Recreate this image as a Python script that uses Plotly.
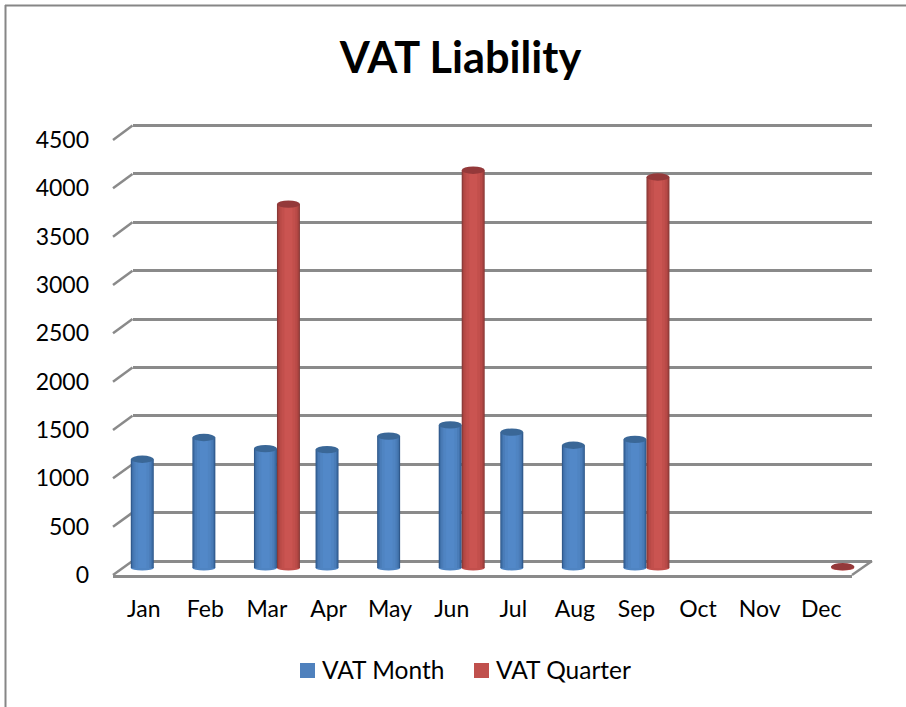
import plotly.graph_objects as go

months = ["Jan", "Feb", "Mar", "Apr", "May", "Jun", "Jul", "Aug", "Sep", "Oct", "Nov", "Dec"]
vat_month = [1125, 1350, 1235, 1225, 1365, 1480, 1405, 1270, 1330, None, None, None]
vat_quarter = [None, None, 3765, None, None, 4115, None, None, 4045, None, None, 15]
y_ticks = [0, 500, 1000, 1500, 2000, 2500, 3000, 3500, 4000, 4500]
series_names = ["VAT Month", "VAT Quarter"]

W, H = 906, 707
FONT = "Lato, Carlito, Calibri, sans-serif"
GRID = "#8a8a8a"
Y_MAX = 4500


def px(x):
    return x / W


def py(y):
    return 1 - y / H


front_x, front_y = (113, 852), (575, 140)
back_x, back_y = (132.5, 872), (561, 125.5)
bar_y = (568, 133)
BAR_W = 23 / 61.6
ELL_H = 76
BASE_H = 50

# small margins so the topmost gridline and the rounded bar ends are not clipped
back_pad = Y_MAX * 2 / (back_y[0] - back_y[1])
bar_pad_low = Y_MAX * 10 / (bar_y[0] - bar_y[1])
cat_px = (front_x[1] - front_x[0]) / len(months)
bar_pad_x = 10 / cat_px

blue_ramp = ["#30598c", "#3f70a9", "#4a7cb8", "#4f84c2", "#5288c8"]
red_ramp = ["#8a3937", "#a94441", "#b94a47", "#c24f4c", "#ca5451"]
ramp_w = [1.0, 0.9, 0.78, 0.6, 0.35]

fig = go.Figure()

# Empty carriers so the wall and the front axes are drawn
fig.add_trace(go.Scatter(x=[0.5], y=[0], xaxis="x", yaxis="y", mode="lines",
                         showlegend=False, hoverinfo="skip"))
fig.add_trace(go.Scatter(x=months, y=[0] * len(months), xaxis="x2", yaxis="y2", mode="lines",
                         line=dict(width=0, color="rgba(0,0,0,0)"), showlegend=False, hoverinfo="skip"))

for vals, ramp, center in [
    (vat_month, blue_ramp, 0.0),
    (vat_quarter, red_ramp, BAR_W),
]:
    for col, frac in zip(ramp, ramp_w):
        w = BAR_W * frac
        fig.add_trace(go.Bar(
            x=months, y=vals, xaxis="x3", yaxis="y3", width=w,
            offset=center - w / 2, marker=dict(color=col, line=dict(width=0)),
            showlegend=False, hoverinfo="skip",
        ))

shapes = []
for vals, base_col, top_col, center in [
    (vat_month, "#4f84c2", "#3a6797", 0.0),
    (vat_quarter, "#c24f4c", "#94393a", BAR_W),
]:
    for i, v in enumerate(vals):
        if v is None:
            continue
        x0, x1 = i + center - BAR_W / 2, i + center + BAR_W / 2
        shapes.append(dict(type="circle", xref="x3", yref="y3", layer="below",
                           x0=x0, x1=x1, y0=-BASE_H / 2, y1=BASE_H / 2,
                           fillcolor=base_col, line=dict(width=0)))
        shapes.append(dict(type="circle", xref="x3", yref="y3", layer="above",
                           x0=x0, x1=x1, y0=v - ELL_H / 2, y1=v + ELL_H / 2,
                           fillcolor=top_col, line=dict(width=0)))

for t in y_ticks:
    fy = front_y[0] + (front_y[1] - front_y[0]) * t / Y_MAX
    by = back_y[0] + (back_y[1] - back_y[0]) * t / Y_MAX
    shapes.append(dict(type="line", xref="paper", yref="paper", layer="below",
                       x0=px(front_x[0]), y0=py(fy), x1=px(back_x[0]), y1=py(by),
                       line=dict(color=GRID, width=2.5)))
shapes.append(dict(type="line", xref="paper", yref="paper", layer="below",
                   x0=px(front_x[1]), y0=py(front_y[0]), x1=px(back_x[1]), y1=py(back_y[0]),
                   line=dict(color=GRID, width=2.5)))
# chart frame
shapes.append(dict(type="line", xref="paper", yref="paper", x0=px(5), x1=1, y0=py(5.5), y1=py(5.5),
                   line=dict(color="#868686", width=2)))
shapes.append(dict(type="line", xref="paper", yref="paper", x0=px(5.5), x1=px(5.5), y0=py(5), y1=0,
                   line=dict(color="#868686", width=2)))

# legend, placed by hand to match the reference's tight key-to-text spacing
annotations = []
for name, col, key_x in [(series_names[0], "#4f81bd", 300), (series_names[1], "#c0504d", 474)]:
    shapes.append(dict(type="rect", xref="paper", yref="paper",
                       x0=px(key_x), x1=px(key_x + 15), y0=py(678), y1=py(663),
                       fillcolor=col, line=dict(width=0)))
    annotations.append(dict(text=name, xref="paper", yref="paper", x=px(key_x + 20), y=py(669.5),
                            xanchor="left", yanchor="middle", showarrow=False,
                            font=dict(family=FONT, size=24.5, color="black")))

fig.update_layout(
    width=W, height=H, margin=dict(l=0, r=0, t=0, b=0, pad=0, autoexpand=False),
    paper_bgcolor="white", plot_bgcolor="rgba(0,0,0,0)", showlegend=False,
    barmode="overlay", font=dict(family=FONT, color="black", size=23),
    title=dict(text="<b>VAT Liability</b>", font=dict(family=FONT, size=43.3, color="black"),
               x=460.5 / W, xanchor="center", y=py(58), yanchor="middle"),
    xaxis=dict(domain=[px(back_x[0]), px(back_x[1])], range=[0, 1], visible=False,
               anchor="y", fixedrange=True),
    yaxis=dict(domain=[py(back_y[0]), py(back_y[1] - 2)], range=[0, Y_MAX + back_pad], tickvals=y_ticks,
               showticklabels=False, ticks="", showgrid=True, gridcolor=GRID, gridwidth=2.5,
               zeroline=True, zerolinecolor=GRID, zerolinewidth=2.5, anchor="x", fixedrange=True),
    xaxis2=dict(domain=[px(front_x[0]), px(front_x[1])], type="category", categoryorder="array",
                categoryarray=months, range=[-0.5, 11.5], anchor="y2", showline=True,
                linecolor=GRID, linewidth=2.5, showgrid=False, ticks="", zeroline=False,
                ticklabelstandoff=12, fixedrange=True),
    yaxis2=dict(domain=[py(front_y[0]), py(front_y[1])], range=[0, Y_MAX], tickvals=y_ticks,
                anchor="x2", showgrid=False, zeroline=False, ticks="", showline=False,
                ticklabelstandoff=23, fixedrange=True),
    xaxis3=dict(domain=[px(front_x[0] - 1.5), px(front_x[1] + 8.5)], type="category", categoryorder="array",
                categoryarray=months, range=[-0.5, 11.5 + bar_pad_x], visible=False,
                anchor="y3", fixedrange=True),
    yaxis3=dict(domain=[py(bar_y[0] + 10), py(bar_y[1])], range=[-bar_pad_low, Y_MAX], visible=False,
                anchor="x3", fixedrange=True),
    shapes=shapes,
    annotations=annotations,
)

fig.write_html("out.html", config={"displayModeBar": False},
               post_script="document.body.style.margin='0';")
